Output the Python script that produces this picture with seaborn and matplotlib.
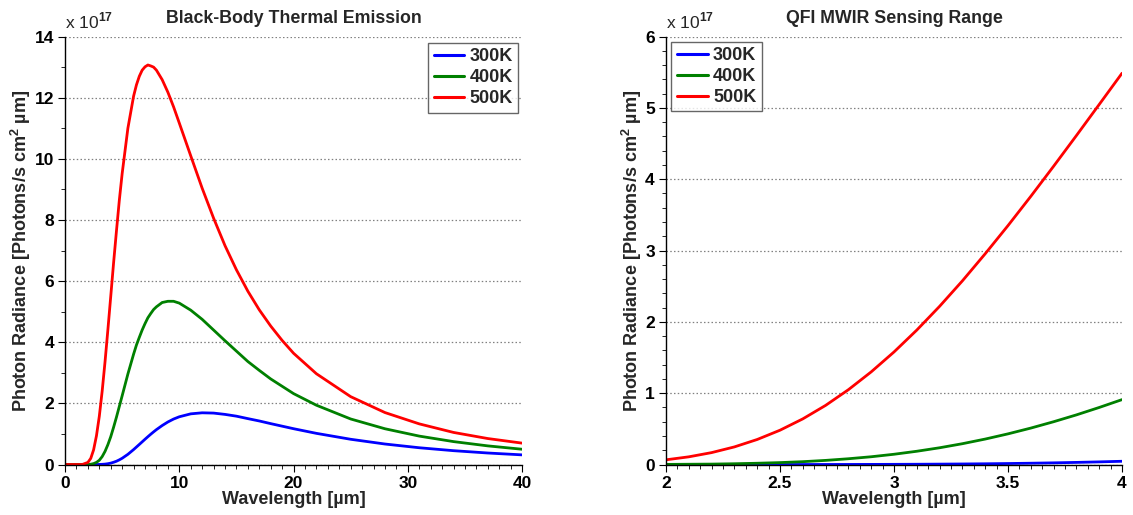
import numpy as np
import pandas as pd
import matplotlib
matplotlib.use("Agg")
import matplotlib.pyplot as plt
from matplotlib.ticker import MultipleLocator
import seaborn as sns

# ── Data (photon radiance, units of 1e17 photons / s cm^2 um) ─────────────────
temps = ["300K", "400K", "500K"]
colors = {"300K": "#0000FF", "400K": "#008000", "500K": "#FF0000"}

wl_left = [0, 0.5, 1, 1.5, 2, 2.25, 2.5, 2.75, 3, 3.25, 3.5, 3.75, 4, 4.25,
           4.5, 4.75, 5, 5.5, 6, 6.25, 6.5, 6.75, 7, 7.25, 7.5, 7.75, 8, 8.5,
           9, 9.5, 10, 11, 12, 13, 14, 15, 16, 17, 18, 19, 20, 22, 25, 28, 31,
           34, 37, 40]
left_300 = [0, 0, 0, 0, 0, 0, 0, 0.001, 0.003, 0.007, 0.014, 0.027, 0.046,
            0.074, 0.108, 0.153, 0.205, 0.334, 0.489, 0.573, 0.657, 0.742,
            0.827, 0.910, 0.991, 1.068, 1.142, 1.275, 1.392, 1.488, 1.562,
            1.658, 1.692, 1.683, 1.640, 1.582, 1.502, 1.425, 1.338, 1.255,
            1.172, 1.020, 0.826, 0.671, 0.549, 0.453, 0.377, 0.316]
left_400 = [0, 0, 0, 0, 0.002, 0.01, 0.03, 0.07, 0.14, 0.26, 0.43, 0.65, 0.91,
            1.22, 1.55, 1.90, 2.25, 2.96, 3.61, 3.91, 4.16, 4.40, 4.61, 4.80,
            4.94, 5.07, 5.16, 5.30, 5.34, 5.34, 5.28, 5.05, 4.75, 4.40, 4.05,
            3.71, 3.37, 3.08, 2.80, 2.56, 2.32, 1.94, 1.49, 1.17, 0.93, 0.75,
            0.61, 0.50]
left_500 = [0, 0, 0, 0, 0.07, 0.20, 0.48, 0.94, 1.58, 2.40, 3.36, 4.41, 5.50,
            6.60, 7.64, 8.64, 9.52, 11.00, 12.05, 12.42, 12.70, 12.90, 13.01,
            13.07, 13.04, 13.00, 12.90, 12.59, 12.18, 11.70, 11.17, 10.10,
            9.04, 8.06, 7.16, 6.37, 5.67, 5.06, 4.53, 4.06, 3.64, 2.97, 2.22,
            1.70, 1.33, 1.05, 0.85, 0.70]

wl_right = [2.0, 2.1, 2.2, 2.3, 2.4, 2.5, 2.6, 2.7, 2.8, 2.9, 3.0,
            3.1, 3.2, 3.3, 3.4, 3.5, 3.6, 3.7, 3.8, 3.9, 4.0]
right_300 = [0, 0, 0, 0.0001, 0.0001, 0.0002, 0.0004, 0.0007, 0.0011, 0.0018,
             0.0027, 0.0039, 0.0056, 0.0078, 0.0105, 0.0141, 0.0184, 0.0236,
             0.0298, 0.0372, 0.0457]
right_400 = [0.002, 0.004, 0.006, 0.011, 0.018, 0.027, 0.040, 0.058, 0.081,
             0.109, 0.144, 0.186, 0.235, 0.292, 0.357, 0.430, 0.511, 0.600,
             0.696, 0.800, 0.910]
right_500 = [0.066, 0.108, 0.167, 0.247, 0.351, 0.481, 0.640, 0.829, 1.049,
             1.299, 1.578, 1.885, 2.218, 2.575, 2.955, 3.350, 3.760, 4.182,
             4.612, 5.048, 5.486]


def _long(wl, series):
    frames = []
    for t, vals in zip(temps, series):
        frames.append(pd.DataFrame({"wl": wl, "val": vals, "T": t}))
    return pd.concat(frames, ignore_index=True)


df_left = _long(wl_left, [left_300, left_400, left_500])
df_right = _long(wl_right, [right_300, right_400, right_500])

# ── Style ─────────────────────────────────────────────────────────────────────
sns.set_style("white")
plt.rcParams.update({
    "font.family": ["Liberation Sans", "DejaVu Sans"],
    "font.weight": "bold",
    "mathtext.fontset": "custom",
    "mathtext.rm": "Liberation Sans",
    "mathtext.bf": "Liberation Sans:bold",
    "axes.edgecolor": "#000000",
    "axes.linewidth": 1.0,
    "xtick.direction": "out",
    "ytick.direction": "out",
    "xtick.color": "#000000",
    "ytick.color": "#000000",
})

fig = plt.figure(figsize=(11.33, 5.15), dpi=100)
ax1 = fig.add_axes([0.0574, 0.098, 0.4034, 0.831])
ax2 = fig.add_axes([0.5878, 0.098, 0.4025, 0.831])

YLABEL = r"Photon Radiance [Photons/s cm$^\mathbf{2}$ µm]"


def _panel(ax, df, title, xlim, ylim, xmaj, xmin, ymaj, ymin, loc, anchor):
    sns.lineplot(data=df, x="wl", y="val", hue="T", palette=colors,
                 estimator=None, sort=False, linewidth=2.0, ax=ax)
    ax.set_xlim(*xlim)
    ax.set_ylim(*ylim)
    ax.xaxis.set_major_locator(MultipleLocator(xmaj))
    ax.xaxis.set_minor_locator(MultipleLocator(xmin))
    ax.yaxis.set_major_locator(MultipleLocator(ymaj))
    ax.yaxis.set_minor_locator(MultipleLocator(ymin))
    ax.tick_params(which="both", bottom=True, left=True, top=False, right=False)
    ax.tick_params(which="major", length=5, width=0.8, labelsize=12.5, pad=3)
    ax.tick_params(which="minor", length=3, width=0.6)
    for lab in ax.get_xticklabels() + ax.get_yticklabels():
        lab.set_fontweight("bold")
    ax.spines["top"].set_visible(False)
    ax.spines["right"].set_visible(False)
    ax.yaxis.grid(True, which="major", color="#808080", linestyle=(0, (1.2, 1.8)),
                  linewidth=0.9)
    ax.set_axisbelow(True)
    ax.set_title(title, fontsize=12.8, fontweight="bold", pad=10)
    ax.set_xlabel("Wavelength [µm]", fontsize=13, fontweight="bold", labelpad=0)
    ax.set_ylabel(YLABEL, fontsize=13, fontweight="bold", labelpad=1)
    ax.text(0.0, 1.012, r"x 10$^{17}$", transform=ax.transAxes, fontsize=12.5,
            fontweight="normal", ha="left", va="bottom")
    leg = ax.legend(loc=loc, bbox_to_anchor=anchor, frameon=True, fancybox=False,
                    fontsize=13, handlelength=1.7, handletextpad=0.3,
                    labelspacing=0.22, borderpad=0.3, borderaxespad=0.0)
    leg.get_frame().set_edgecolor("#404040")
    leg.get_frame().set_linewidth(1.0)
    for txt in leg.get_texts():
        txt.set_fontweight("bold")
    for line in leg.get_lines():
        line.set_linewidth(2.2)


_panel(ax1, df_left, "Black-Body Thermal Emission", (0, 40), (0, 14),
       10, 1, 2, 1, "upper right", (0.992, 0.985))
_panel(ax2, df_right, "QFI MWIR Sensing Range", (2, 4), (0, 6),
       0.5, 0.05, 1, 0.2, "upper left", (0.012, 0.988))
ax2.xaxis.set_major_formatter(plt.FuncFormatter(lambda v, p: f"{v:g}"))

fig.savefig("out.png", dpi=100)
